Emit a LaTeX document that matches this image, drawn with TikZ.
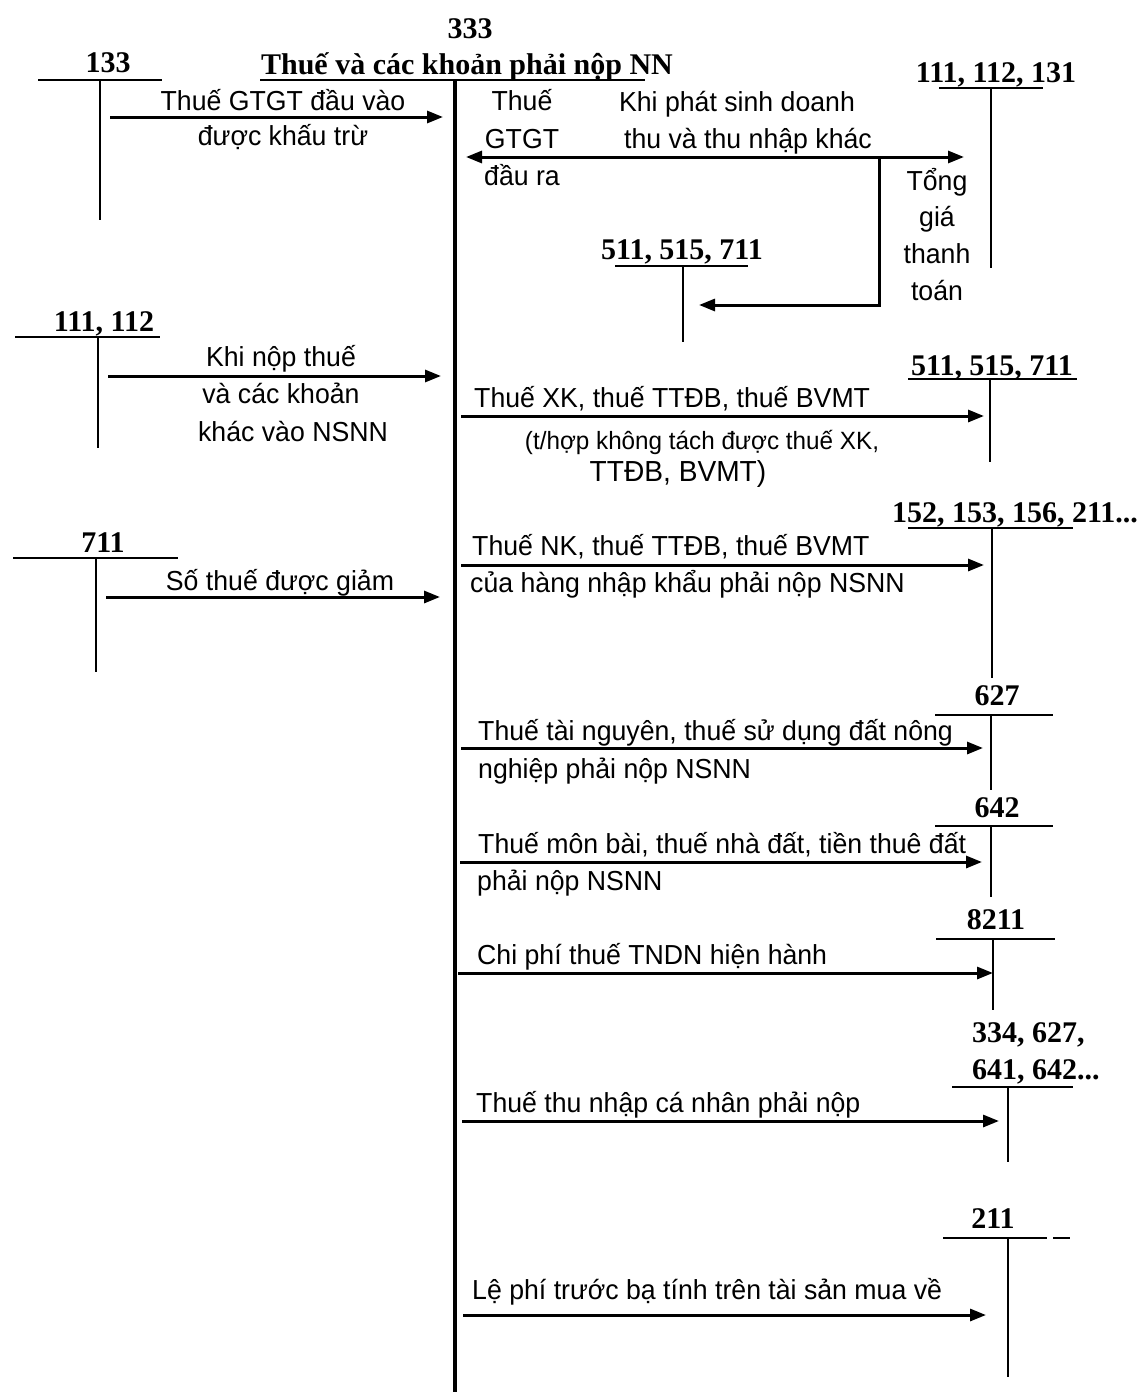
\documentclass[tikz,border=0pt]{standalone}
\usepackage{fontspec}
\setmainfont{Liberation Serif}
\newfontfamily\lblsans{Liberation Sans}[FakeStretch=0.97]
\usetikzlibrary{arrows.meta}
\begin{document}
\begin{tikzpicture}[x=1pt,y=-1pt,
  txt/.style={inner sep=0pt,font=\lblsans\fontsize{27.5}{32}\selectfont},
  bigtxt/.style={inner sep=0pt,font=\lblsans\fontsize{29}{34}\selectfont},
  small/.style={inner sep=0pt,font=\lblsans\fontsize{25}{30}\selectfont},
  acc/.style={inner sep=0pt,font=\fontsize{30}{35}\selectfont\bfseries},
  tline/.style={line width=2.4pt},
  mainline/.style={line width=3.4pt},
  arr/.style={line width=3pt,-{Triangle[length=16pt,width=12pt]}},
  darr/.style={line width=3pt,{Triangle[length=16pt,width=12pt]}-{Triangle[length=16pt,width=12pt]}},
]
\useasboundingbox[fill=white] (0,0) rectangle (1141,1392);

% ---------- account 333 (main) ----------
\node[acc,anchor=base] (n333) at (470,38) {333};
\node[acc,anchor=base] (t333) at (467,74) {Thuế và các khoản phải nộp NN};
\coordinate (m333L) at (260,80);
\coordinate (m333R) at (645,80);
\coordinate (m333T) at (455,80);
\coordinate (m333B) at (455,1392);
\draw[tline] (m333L) -- (m333R);
\draw[mainline] (m333T) -- (m333B);

% ---------- account 133 ----------
\node[acc,anchor=base] (n133) at (108,72) {133};
\coordinate (a133L) at (38,80);
\coordinate (a133R) at (162,80);
\coordinate (a133T) at (100,80);
\coordinate (a133B) at (100,220);
\draw[tline] (a133L) -- (a133R);
\draw[tline] (a133T) -- (a133B);
\coordinate (r1s) at (110,117);
\coordinate (r1e) at (443,117);
\draw[arr] (r1s) -- (r1e);
\node[txt,anchor=base] (l1a) at (283,110) {Thuế GTGT đầu vào};
\node[txt,anchor=base] (l1b) at (283,145) {được khấu trừ};

% ---------- account 111,112,131 ----------
\node[acc,anchor=base] (n111a) at (996,82) {111, 112, 131};
\coordinate (a111L) at (939,88);
\coordinate (a111R) at (1043,88);
\coordinate (a111T) at (991,88);
\coordinate (a111B) at (991,268);
\draw[tline] (a111L) -- (a111R);
\draw[tline] (a111T) -- (a111B);

\node[txt,anchor=base] (l2a) at (522,110) {Thuế};
\node[txt,anchor=base] (l2b) at (522,148) {GTGT};
\node[txt,anchor=base] (l2c) at (522,185) {đầu ra};
\node[txt,anchor=base] (l3a) at (737,111) {Khi phát sinh doanh};
\node[txt,anchor=base] (l3b) at (748,148) {thu và thu nhập khác};
\node[txt,anchor=base] (l4a) at (937,190) {Tổng};
\node[txt,anchor=base] (l4b) at (937,226) {giá};
\node[txt,anchor=base] (l4c) at (937,263) {thanh};
\node[txt,anchor=base] (l4d) at (937,300) {toán};

\coordinate (d1L) at (466,157);
\coordinate (d1R) at (964,157);
\coordinate (split) at (879,157);
\coordinate (r3e) at (699,305);
\draw[darr] (d1L) -- (d1R);
\draw[arr] (split) |- (r3e);

% ---------- account 511,515,711 (first) ----------
\node[acc,anchor=base] (n511a) at (682,259) {511, 515, 711};
\coordinate (b511L) at (615,266);
\coordinate (b511R) at (748,266);
\coordinate (b511T) at (683,266);
\coordinate (b511B) at (683,342);
\draw[tline] (b511L) -- (b511R);
\draw[tline] (b511T) -- (b511B);

% ---------- account 111,112 ----------
\node[acc,anchor=base] (n111b) at (104,331) {111, 112};
\coordinate (c111L) at (15,337);
\coordinate (c111R) at (160,337);
\coordinate (c111T) at (98,337);
\coordinate (c111B) at (98,448);
\draw[tline] (c111L) -- (c111R);
\draw[tline] (c111T) -- (c111B);
\coordinate (r5s) at (108,376);
\coordinate (r5e) at (441,376);
\draw[arr] (r5s) -- (r5e);
\node[txt,anchor=base] (l5a) at (281,366) {Khi nộp thuế};
\node[txt,anchor=base] (l5b) at (281,403) {và các khoản};
\node[txt,anchor=base] (l5c) at (293,441) {khác vào NSNN};

% ---------- account 711 ----------
\node[acc,anchor=base] (n711) at (103,552) {711};
\coordinate (d711L) at (13,558);
\coordinate (d711R) at (178,558);
\coordinate (d711T) at (96,558);
\coordinate (d711B) at (96,672);
\draw[tline] (d711L) -- (d711R);
\draw[tline] (d711T) -- (d711B);
\coordinate (r6s) at (106,597);
\coordinate (r6e) at (440,597);
\draw[arr] (r6s) -- (r6e);
\node[txt,anchor=base] (l6) at (280,590) {Số thuế được giảm};

% ---------- account 511,515,711 (second) ----------
\node[acc,anchor=base] (n511b) at (992,375) {511, 515, 711};
\coordinate (e511L) at (908,379);
\coordinate (e511R) at (1077,379);
\coordinate (e511T) at (990,379);
\coordinate (e511B) at (990,462);
\draw[tline] (e511L) -- (e511R);
\draw[tline] (e511T) -- (e511B);
\coordinate (r7s) at (461,416);
\coordinate (r7e) at (984,416);
\draw[arr] (r7s) -- (r7e);
\node[txt,anchor=base west] (l7a) at (474,407) {Thuế XK, thuế TTĐB, thuế BVMT};
\node[small,anchor=base] (l7b) at (702,449) {(t/hợp không tách được thuế XK,};
\node[bigtxt,anchor=base] (l7c) at (678,481) {TTĐB, BVMT)};

% ---------- account 152,153,156,211 ----------
\node[acc,anchor=base] (n152) at (1015,522) {152, 153, 156, 211...};
\coordinate (f152L) at (908,528);
\coordinate (f152R) at (1073,528);
\coordinate (f152T) at (992,528);
\coordinate (f152B) at (992,678);
\draw[tline] (f152L) -- (f152R);
\draw[tline] (f152T) -- (f152B);
\coordinate (r8s) at (461,565);
\coordinate (r8e) at (984,565);
\draw[arr] (r8s) -- (r8e);
\node[txt,anchor=base west] (l8a) at (472,555) {Thuế NK, thuế TTĐB, thuế BVMT};
\node[txt,anchor=base west] (l8b) at (470,592) {của hàng nhập khẩu phải nộp NSNN};

% ---------- account 627 ----------
\node[acc,anchor=base] (n627) at (997,705) {627};
\coordinate (g627L) at (935,715);
\coordinate (g627R) at (1053,715);
\coordinate (g627T) at (991,715);
\coordinate (g627B) at (991,790);
\draw[tline] (g627L) -- (g627R);
\draw[tline] (g627T) -- (g627B);
\coordinate (r9s) at (461,748);
\coordinate (r9e) at (983,748);
\draw[arr] (r9s) -- (r9e);
\node[txt,anchor=base west] (l9a) at (478,740) {Thuế tài nguyên, thuế sử dụng đất nông};
\node[txt,anchor=base west] (l9b) at (478,778) {nghiệp phải nộp NSNN};

% ---------- account 642 ----------
\node[acc,anchor=base] (n642) at (997,817) {642};
\coordinate (h642L) at (935,826);
\coordinate (h642R) at (1053,826);
\coordinate (h642T) at (991,826);
\coordinate (h642B) at (991,897);
\draw[tline] (h642L) -- (h642R);
\draw[tline] (h642T) -- (h642B);
\coordinate (r10s) at (460,862);
\coordinate (r10e) at (982,862);
\draw[arr] (r10s) -- (r10e);
\node[txt,anchor=base west] (l10a) at (478,853) {Thuế môn bài, thuế nhà đất, tiền thuê đất};
\node[txt,anchor=base west] (l10b) at (477,890) {phải nộp NSNN};

% ---------- account 8211 ----------
\node[acc,anchor=base] (n8211) at (996,929) {8211};
\coordinate (i821L) at (936,939);
\coordinate (i821R) at (1055,939);
\coordinate (i821T) at (993,939);
\coordinate (i821B) at (993,1010);
\draw[tline] (i821L) -- (i821R);
\draw[tline] (i821T) -- (i821B);
\coordinate (r11s) at (458,973);
\coordinate (r11e) at (993,973);
\draw[arr] (r11s) -- (r11e);
\node[txt,anchor=base west] (l11) at (477,964) {Chi phí thuế TNDN hiện hành};

% ---------- account 334,627,641,642 ----------
\node[acc,anchor=base west] (n334a) at (972,1042) {334, 627,};
\node[acc,anchor=base west] (n334b) at (972,1079) {641, 642...};
\coordinate (j334L) at (952,1087);
\coordinate (j334R) at (1073,1087);
\coordinate (j334T) at (1008,1087);
\coordinate (j334B) at (1008,1162);
\draw[tline] (j334L) -- (j334R);
\draw[tline] (j334T) -- (j334B);
\coordinate (r12s) at (462,1121);
\coordinate (r12e) at (999,1121);
\draw[arr] (r12s) -- (r12e);
\node[txt,anchor=base west] (l12) at (476,1112) {Thuế thu nhập cá nhân phải nộp};

% ---------- account 211 ----------
\node[acc,anchor=base] (n211) at (993,1228) {211};
\coordinate (k211L) at (943,1238);
\coordinate (k211M) at (1047,1238);
\coordinate (k211N) at (1053,1238);
\coordinate (k211R) at (1070,1238);
\coordinate (k211T) at (1008,1238);
\coordinate (k211B) at (1008,1377);
\draw[tline] (k211L) -- (k211M);
\draw[tline] (k211N) -- (k211R);
\draw[tline] (k211T) -- (k211B);
\coordinate (r13s) at (463,1315);
\coordinate (r13e) at (986,1315);
\draw[arr] (r13s) -- (r13e);
\node[txt,anchor=base west] (l13) at (472,1299) {Lệ phí trước bạ tính trên tài sản mua về};
\end{tikzpicture}
\end{document}
